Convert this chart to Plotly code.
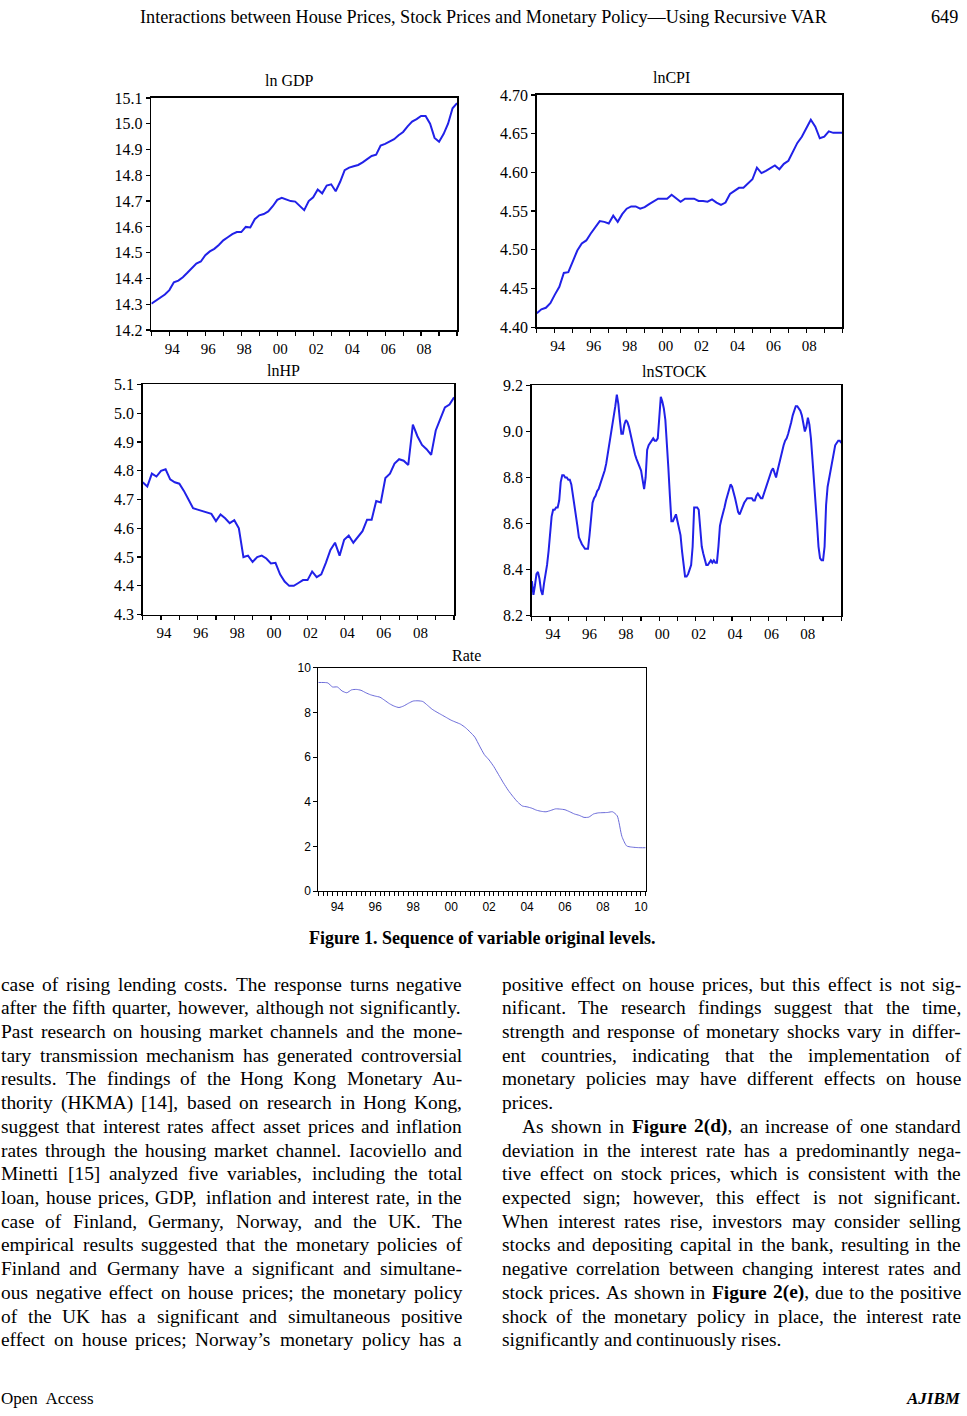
import numpy as np
import plotly.graph_objects as go

W, H = 967, 1416

# ---------------- data ----------------
quarters = 1993 + np.arange(69) / 4.0          # 1993Q1 .. 2010Q1
months = 1993 + np.arange(205) / 12.0          # 1993M1 .. 2010M1
rate_quarters = 1993 + np.arange(70) / 4.0     # 1993Q1 .. 2010Q2

ln_gdp = [14.302, 14.315, 14.327, 14.338, 14.355, 14.385, 14.392, 14.405, 14.422, 14.440,
          14.458, 14.466, 14.490, 14.505, 14.515, 14.530, 14.548, 14.560, 14.572, 14.580,
          14.580, 14.600, 14.598, 14.630, 14.645, 14.650, 14.660, 14.680, 14.705, 14.713,
          14.705, 14.700, 14.698, 14.680, 14.665, 14.700, 14.715, 14.745, 14.730, 14.760,
          14.765, 14.738, 14.775, 14.820, 14.830, 14.835, 14.840, 14.850, 14.862, 14.875,
          14.880, 14.915, 14.922, 14.930, 14.940, 14.955, 14.968, 14.990, 15.008, 15.018,
          15.030, 15.030, 15.000, 14.945, 14.930, 14.960, 15.000, 15.060, 15.080]

ln_cpi = [4.418, 4.423, 4.425, 4.431, 4.442, 4.452, 4.470, 4.471, 4.485, 4.499,
          4.508, 4.512, 4.521, 4.529, 4.537, 4.536, 4.534, 4.544, 4.536, 4.546,
          4.553, 4.556, 4.556, 4.553, 4.555, 4.559, 4.562, 4.566, 4.566, 4.566,
          4.571, 4.566, 4.562, 4.566, 4.566, 4.566, 4.563, 4.563, 4.562, 4.565,
          4.561, 4.558, 4.561, 4.572, 4.576, 4.580, 4.580, 4.585, 4.591, 4.606,
          4.599, 4.602, 4.606, 4.609, 4.604, 4.611, 4.615, 4.627, 4.638, 4.646,
          4.657, 4.668, 4.659, 4.644, 4.646, 4.653, 4.651, 4.651, 4.651]

ln_hp = [4.760, 4.745, 4.790, 4.780, 4.800, 4.805, 4.770, 4.760, 4.755, 4.730,
         4.700, 4.670, 4.665, 4.660, 4.655, 4.650, 4.625, 4.648, 4.635, 4.618,
         4.628, 4.600, 4.500, 4.505, 4.483, 4.500, 4.505, 4.495, 4.478, 4.480,
         4.440, 4.415, 4.400, 4.400, 4.410, 4.420, 4.420, 4.450, 4.430, 4.440,
         4.480, 4.525, 4.550, 4.505, 4.560, 4.575, 4.550, 4.570, 4.590, 4.630,
         4.630, 4.695, 4.690, 4.775, 4.790, 4.825, 4.840, 4.835, 4.820, 4.960,
         4.920, 4.890, 4.875, 4.855, 4.940, 4.980, 5.020, 5.030, 5.055]

ln_stock = [8.35, 8.29, 8.33, 8.38, 8.39, 8.36, 8.31, 8.29, 8.34, 8.38, 8.42, 8.48,
            8.56, 8.63, 8.66, 8.66, 8.67, 8.67, 8.70, 8.78, 8.81, 8.81, 8.80, 8.80,
            8.79, 8.79, 8.77, 8.73, 8.68, 8.64, 8.59, 8.54, 8.52, 8.51, 8.50, 8.49,
            8.49, 8.49, 8.55, 8.62, 8.69, 8.71, 8.72, 8.74, 8.75, 8.77, 8.79, 8.80,
            8.83, 8.86, 8.90, 8.94, 8.97, 9.01, 9.05, 9.11, 9.16, 9.12, 9.05, 8.99,
            8.99, 9.03, 9.05, 9.04, 9.02, 8.99, 8.96, 8.92, 8.90, 8.88, 8.86, 8.85,
            8.83, 8.79, 8.75, 8.80, 8.92, 8.94, 8.95, 8.96, 8.97, 8.96, 8.96, 8.97,
            9.05, 9.15, 9.13, 9.10, 9.05, 8.96, 8.84, 8.72, 8.61, 8.61, 8.63, 8.64,
            8.61, 8.58, 8.55, 8.48, 8.42, 8.37, 8.37, 8.38, 8.40, 8.42, 8.50, 8.67,
            8.67, 8.67, 8.66, 8.58, 8.50, 8.47, 8.44, 8.42, 8.42, 8.43, 8.44, 8.43,
            8.44, 8.43, 8.43, 8.50, 8.59, 8.62, 8.64, 8.67, 8.70, 8.72, 8.75, 8.77,
            8.76, 8.74, 8.71, 8.68, 8.65, 8.64, 8.66, 8.68, 8.69, 8.70, 8.71, 8.71,
            8.71, 8.71, 8.70, 8.70, 8.72, 8.73, 8.72, 8.71, 8.71, 8.73, 8.75, 8.78,
            8.79, 8.81, 8.83, 8.84, 8.82, 8.80, 8.83, 8.86, 8.89, 8.92, 8.94, 8.96,
            8.97, 8.99, 9.01, 9.04, 9.07, 9.09, 9.11, 9.11, 9.10, 9.09, 9.07, 9.04,
            9.00, 9.02, 9.06, 9.03, 8.97, 8.88, 8.80, 8.68, 8.60, 8.50, 8.45, 8.44,
            8.44, 8.50, 8.68, 8.76, 8.80, 8.84, 8.87, 8.91, 8.94, 8.95, 8.96, 8.96,
            8.95]

rate = [9.35, 9.35, 9.33, 9.15, 9.15, 8.97, 8.89, 9.02, 9.04, 9.00,
        8.89, 8.80, 8.74, 8.69, 8.55, 8.40, 8.29, 8.23, 8.30, 8.42,
        8.52, 8.53, 8.50, 8.33, 8.15, 8.02, 7.90, 7.78, 7.66, 7.57,
        7.48, 7.33, 7.13, 6.90, 6.50, 6.12, 5.88, 5.58, 5.22, 4.86,
        4.53, 4.25, 4.00, 3.82, 3.78, 3.72, 3.63, 3.58, 3.56, 3.62,
        3.69, 3.68, 3.65, 3.56, 3.46, 3.40, 3.31, 3.32, 3.46, 3.51,
        3.52, 3.53, 3.56, 3.38, 2.45, 2.03, 1.98, 1.96, 1.95, 1.95]

year_ticks = list(range(1993, 2011))
year_labels = ["" if (y % 2 or y in (1993, 2010)) else f"{y % 100:02d}" for y in year_ticks]
rate_tick_labels = ["" if (q % 1 or int(q) % 2) else f"{int(q) % 100:02d}" for q in rate_quarters]

panel_titles = ["ln GDP", "lnCPI", "lnHP", "lnSTOCK", "Rate"]

# ---------------- page text ----------------
header_text = "Interactions between House Prices, Stock Prices and Monetary Policy\u2014Using Recursive VAR"
page_number = "649"
caption_text = "Figure 1. Sequence of variable original levels."

left_lines = [
    "case of rising lending costs. The response turns negative",
    "after the fifth quarter, however, although not significantly.",
    "Past research on housing market channels and the mone-",
    "tary transmission mechanism has generated controversial",
    "results. The findings of the Hong Kong Monetary Au-",
    "thority (HKMA) [14], based on research in Hong Kong,",
    "suggest that interest rates affect asset prices and inflation",
    "rates through the housing market channel. Iacoviello and",
    "Minetti [15] analyzed five variables, including the total",
    "loan, house prices, GDP, inflation and interest rate, in the",
    "case of Finland, Germany, Norway, and the UK. The",
    "empirical results suggested that the monetary policies of",
    "Finland and Germany have a significant and simultane-",
    "ous negative effect on house prices; the monetary policy",
    "of the UK has a significant and simultaneous positive",
    "effect on house prices; Norway\u2019s monetary policy has a",
]
right_lines = [
    "positive effect on house prices, but this effect is not sig-",
    "nificant. The research findings suggest that the time,",
    "strength and response of monetary shocks vary in differ-",
    "ent countries, indicating that the implementation of",
    "monetary policies may have different effects on house",
    "prices.",
    "As shown in *Figure* *2(d)*, an increase of one standard",
    "deviation in the interest rate has a predominantly nega-",
    "tive effect on stock prices, which is consistent with the",
    "expected sign; however, this effect is not significant.",
    "When interest rates rise, investors may consider selling",
    "stocks and depositing capital in the bank, resulting in the",
    "negative correlation between changing interest rates and",
    "stock prices. As shown in *Figure* *2(e)*, due to the positive",
    "shock of the monetary policy in place, the interest rate",
    "significantly and continuously rises.",
]
right_unjustified = {5, 15}
right_indent = {6}

# ---------------- font metrics (Times / Liberation Serif) ----------------
REG = {' ': 250, '!': 333, '(': 333, ')': 333, ',': 250, '-': 333, '.': 250, ':': 278, ';': 278,
       '[': 333, ']': 333, "'": 180, '\u2019': 333, '\u2014': 1000, '?': 444}
for c in "0123456789":
    REG[c] = 500
REG.update(dict(zip("ABCDEFGHIJKLMNOPQRSTUVWXYZ",
                    [722, 667, 667, 722, 611, 556, 722, 722, 333, 389, 722, 611, 889, 722, 722, 556, 722,
                     667, 556, 611, 722, 722, 944, 722, 722, 611])))
REG.update(dict(zip("abcdefghijklmnopqrstuvwxyz",
                    [444, 500, 444, 500, 444, 333, 500, 500, 278, 278, 500, 278, 778, 500, 500, 500, 500,
                     333, 389, 278, 500, 500, 722, 500, 500, 444])))
BOLD = {' ': 250, '(': 333, ')': 333, ',': 250, '.': 250}
for c in "0123456789":
    BOLD[c] = 500
BOLD.update(dict(zip("ABCDEFGHIJKLMNOPQRSTUVWXYZ",
                     [722, 667, 722, 722, 667, 611, 778, 778, 389, 500, 778, 667, 944, 722, 778, 611, 778,
                      722, 556, 667, 722, 722, 1000, 722, 722, 667])))
BOLD.update(dict(zip("abcdefghijklmnopqrstuvwxyz",
                     [500, 556, 444, 556, 444, 333, 500, 556, 278, 333, 556, 278, 833, 556, 500, 556, 556,
                      444, 389, 333, 556, 500, 722, 500, 500, 444])))


def units(s, table):
    return sum(table.get(c, 500) for c in s)


def word_parts(word):
    segs = word.split('*')
    html, u = "", 0
    for i, s in enumerate(segs):
        if not s:
            continue
        if i % 2:
            html += f"<b>{s}</b>"
            u += units(s, BOLD)
        else:
            html += s
            u += units(s, REG)
    return html, u


SERIF = "Liberation Serif, Times New Roman, serif"
SANS = "Liberation Sans, Arial, sans-serif"
BODY = 19.4
LINE0, LEAD = 988, 24.0

annotations = []


def add_text(text, x, y, size, xanchor="left", family=SERIF, color="black"):
    annotations.append(dict(text=text, x=x / W, y=1 - y / H, xref="paper", yref="paper",
                            xanchor=xanchor, yanchor="middle", showarrow=False,
                            borderpad=0, borderwidth=0,
                            font=dict(family=family, size=size, color=color)))


def set_column(lines, x0, x1, unjust=(), indent=(), indent_px=20):
    for k, line in enumerate(lines):
        y = LINE0 + LEAD * k
        words = line.split(' ')
        parts = [word_parts(w) for w in words]
        start = x0 + (indent_px if k in indent else 0)
        widths = [u * BODY / 1000 for _, u in parts]
        sp = REG[' '] * BODY / 1000
        if k in unjust or len(words) == 1:
            gap = sp
        else:
            gap = (x1 - start - sum(widths)) / (len(words) - 1)
        x = start
        for (html, _), w in zip(parts, widths):
            add_text(html, x, y, BODY)
            x += w + gap


set_column(left_lines, 1, 463)
set_column(right_lines, 503, 963, unjust=right_unjustified, indent=right_indent)

# header, caption, footer
hdr_size = 690 * 1000 / units(header_text, REG)
add_text(header_text, 485, 9, hdr_size, xanchor="center")
add_text(page_number, 946, 9, hdr_size, xanchor="center")
cap_size = 347 * 1000 / units(caption_text, BOLD)
add_text(f"<b>{caption_text}</b>", 483, 941, cap_size, xanchor="center")
add_text("Open\u00a0 Access", 1, 1407, 17)
add_text("<b><i>AJIBM</i></b>", 963, 1407, 17, xanchor="right")

# ---------------- chart panels ----------------
fig = go.Figure()

BLUE = "#2121e8"
panels = [
    dict(x=quarters, y=ln_gdp, dom=(151.7, 458, 91, 326), yr=[14.2, 15.1], dt=0.1, fmt=".1f",
         title=(panel_titles[0], 290, 73)),
    dict(x=quarters, y=ln_cpi, dom=(538, 844, 88, 323), yr=[4.40, 4.70], dt=0.05, fmt=".2f",
         title=(panel_titles[1], 673, 70)),
    dict(x=quarters, y=ln_hp, dom=(143, 455, 381, 614), yr=[4.3, 5.1], dt=0.1, fmt=".1f",
         title=(panel_titles[2], 284, 367)),
    dict(x=months, y=ln_stock, dom=(533, 843, 382, 615), yr=[8.2, 9.2], dt=0.2, fmt=".1f",
         title=(panel_titles[3], 676, 368)),
]

layout_axes = {}
for i, p in enumerate(panels, start=1):
    xa, ya = f"x{i}", f"y{i}"
    x0, x1, t, b = p["dom"]
    fig.add_trace(go.Scatter(x=p["x"], y=p["y"], mode="lines", xaxis=xa, yaxis=ya,
                             line=dict(color=BLUE, width=2), showlegend=False, hoverinfo="skip"))
    layout_axes[f"xaxis{i}"] = dict(
        domain=[x0 / W, x1 / W], anchor=ya, range=[1993, 2010],
        tickmode="array", tickvals=year_ticks, ticktext=year_labels,
        ticks="outside", ticklen=4, tickwidth=1.2, tickcolor="black",
        showline=True, mirror=True, linecolor="black", linewidth=1.6,
        showgrid=False, zeroline=False, ticklabelshift=3,
        tickfont=dict(family=SERIF, size=15, color="black"))
    layout_axes[f"yaxis{i}"] = dict(
        domain=[1 - b / H, 1 - t / H], anchor=xa, range=p["yr"],
        tick0=p["yr"][0], dtick=p["dt"], tickformat=p["fmt"],
        ticks="outside", ticklen=4, tickwidth=1.2, tickcolor="black",
        showline=True, mirror=True, linecolor="black", linewidth=1.6,
        showgrid=False, zeroline=False,
        tickfont=dict(family=SERIF, size=16, color="black"))
    name, tx, ty = p["title"]
    add_text(name, tx, ty, 16, xanchor="center")

# Rate panel
fig.add_trace(go.Scatter(x=rate_quarters, y=rate, mode="lines", xaxis="x5", yaxis="y5",
                         line=dict(color="#6a6ad8", width=1, shape="spline", smoothing=0.6),
                         showlegend=False, hoverinfo="skip"))
layout_axes["xaxis5"] = dict(
    domain=[319 / W, 647 / W], anchor="y5", range=[1993, 2010.25],
    tickmode="array", tickvals=list(rate_quarters), ticktext=rate_tick_labels,
    ticks="outside", ticklen=4, tickwidth=1, tickcolor="black",
    showline=True, mirror=True, linecolor="black", linewidth=1,
    showgrid=False, zeroline=False,
    tickfont=dict(family=SANS, size=12, color="black"))
layout_axes["yaxis5"] = dict(
    domain=[1 - 894 / H, 1 - 668 / H], anchor="x5", range=[0, 10],
    tick0=0, dtick=2, ticks="outside", ticklen=4, tickwidth=1, tickcolor="black",
    showline=True, mirror=True, linecolor="black", linewidth=1,
    showgrid=False, zeroline=False,
    tickfont=dict(family=SANS, size=12, color="black"))
add_text(panel_titles[4], 467, 655, 16, xanchor="center")

fig.update_layout(
    width=W, height=H, margin=dict(l=0, r=0, t=0, b=0),
    paper_bgcolor="white", plot_bgcolor="white",
    annotations=annotations, **layout_axes)

fig.write_html(
    "out.html",
    config={"displayModeBar": False, "staticPlot": True},
    post_script=("document.documentElement.style.margin='0';"
                 "document.documentElement.style.overflow='hidden';"
                 "document.body.style.margin='0';document.body.style.padding='0';"
                 "document.body.style.overflow='hidden';"
                 "var g=document.getElementById('{plot_id}');"
                 "g.style.position='fixed';g.style.top='0px';g.style.left='0px';"),
)
